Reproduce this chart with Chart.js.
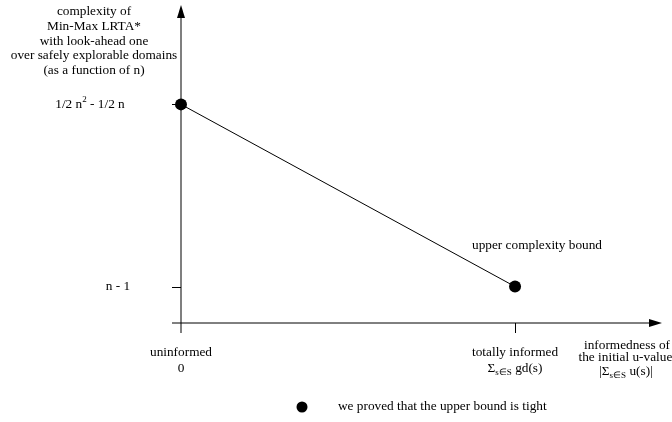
<!DOCTYPE html>
<html>
<head>
<meta charset="utf-8">
<script src="https://cdn.jsdelivr.net/npm/chart.js@4"></script>
<style>
  body { margin: 0; background: #fff; }
  #wrap { width: 672px; height: 422px; }
</style>
</head>
<body>
<div id="wrap"><canvas id="boundChart"></canvas></div>
<script>
// informedness (x) and complexity (y), y taken as n(n-1)/2 and n-1 for n = 12
const categories = ['uninformed', 'totally informed'];
const xValues = [0, 1];
const yValues = [66, 11];
const yTickValues = [66, 11];
const seriesLabel = 'upper complexity bound';
const legendLabel = 'we proved that the upper bound is tight';
const yAxisTitle = ['complexity of', 'Min-Max LRTA*', 'with look-ahead one', 'over safely explorable domains', '(as a function of n)'];

const FONT = '"Liberation Serif", "Times New Roman", serif';
const BASE = 13.3;

// parts: [{t, size, dy}]
function drawRich(ctx, parts, cx, cy) {
    let w = 0;
    parts.forEach(p => {
        ctx.font = (p.size || BASE) + 'px ' + FONT;
        w += ctx.measureText(p.t).width;
    });
    let x = cx - w / 2;
    parts.forEach(p => {
        ctx.font = (p.size || BASE) + 'px ' + FONT;
        ctx.fillText(p.t, x, cy + (p.dy || 0));
        x += ctx.measureText(p.t).width;
    });
}

const yTickParts = [
    [{ t: '1/2 n' }, { t: '2', size: 9, dy: -5 }, { t: ' - 1/2 n' }],
    [{ t: 'n - 1' }]
];
const yTickX = [90, 118];
const xTickParts = [
    [[{ t: categories[0] }], [{ t: '0' }]],
    [[{ t: categories[1] }], [{ t: 'Σ' }, { t: 's∈S', size: 9, dy: 4 }, { t: ' gd(s)' }]]
];

const diagram = {
    id: 'diagram',
    beforeDatasetsDraw(chart) {
        const ctx = chart.ctx;
        const xs = chart.scales.x, ys = chart.scales.y;
        const x0 = xs.getPixelForValue(0), y0 = ys.getPixelForValue(0);
        const top = chart.chartArea.top, right = chart.chartArea.right;
        ctx.save();
        // vertical axis
        ctx.strokeStyle = '#555';
        ctx.lineWidth = 1.5;
        ctx.beginPath();
        ctx.moveTo(x0, y0 + 10);
        ctx.lineTo(x0, top + 10);
        ctx.stroke();
        ctx.fillStyle = '#000';
        ctx.beginPath();
        ctx.moveTo(x0, top);
        ctx.lineTo(x0 - 4, top + 13);
        ctx.lineTo(x0 + 4, top + 13);
        ctx.closePath();
        ctx.fill();
        // horizontal axis
        ctx.strokeStyle = '#000';
        ctx.lineWidth = 1;
        ctx.beginPath();
        ctx.moveTo(x0 - 9, y0);
        ctx.lineTo(right - 10, y0);
        ctx.stroke();
        ctx.beginPath();
        ctx.moveTo(right, y0);
        ctx.lineTo(right - 13, y0 - 4);
        ctx.lineTo(right - 13, y0 + 4);
        ctx.closePath();
        ctx.fill();
        // ticks
        ctx.beginPath();
        yTickValues.forEach(v => {
            const py = Math.round(ys.getPixelForValue(v)) + 0.5;
            ctx.moveTo(x0 - 9, py);
            ctx.lineTo(x0, py);
        });
        const px1 = Math.round(xs.getPixelForValue(xValues[1])) + 0.5;
        ctx.moveTo(px1, y0);
        ctx.lineTo(px1, y0 + 10);
        ctx.stroke();

        // texts
        ctx.fillStyle = '#000';
        ctx.textBaseline = 'middle';
        ctx.textAlign = 'left';
        yAxisTitle.forEach((line, i) => drawRich(ctx, [{ t: line }], 94, 12 + i * 14.6));
        yTickValues.forEach((v, i) => drawRich(ctx, yTickParts[i], yTickX[i], ys.getPixelForValue(v)));
        xValues.forEach((v, i) => {
            const px = xs.getPixelForValue(v);
            drawRich(ctx, xTickParts[i][0], px, y0 + 30);
            drawRich(ctx, xTickParts[i][1], px, y0 + 46);
        });
        drawRich(ctx, [{ t: 'informedness of' }], 627, y0 + 23);
        drawRich(ctx, [{ t: 'the initial u-values' }], 628, y0 + 35);
        drawRich(ctx, [{ t: '|Σ' }, { t: 's∈S', size: 9, dy: 4 }, { t: ' u(s)|' }], 626, y0 + 49);
        drawRich(ctx, [{ t: seriesLabel }], 537, 246);

        // legend
        ctx.beginPath();
        ctx.arc(302, 407, 5.5, 0, Math.PI * 2);
        ctx.fill();
        ctx.textAlign = 'left';
        ctx.font = BASE + 'px ' + FONT;
        ctx.fillText(legendLabel, 338, 407);
        ctx.restore();
    }
};

new Chart(document.getElementById('boundChart').getContext('2d'), {
    type: 'scatter',
    data: {
        datasets: [{
            label: seriesLabel,
            data: xValues.map((x, i) => ({ x: x, y: yValues[i] })),
            showLine: true,
            borderColor: '#000',
            borderWidth: 1,
            pointRadius: 6,
            pointBackgroundColor: '#000',
            pointBorderWidth: 0,
            clip: false
        }]
    },
    options: {
        responsive: true,
        maintainAspectRatio: false,
        animation: false,
        layout: {
            autoPadding: false,
            padding: { left: 181, right: 10, top: 5, bottom: 99 }
        },
        plugins: {
            legend: { display: false },
            tooltip: { enabled: false }
        },
        scales: {
            x: { type: 'linear', min: 0, max: 1.44, display: false },
            y: { type: 'linear', min: 0, max: 96, display: false }
        }
    },
    plugins: [diagram]
});
</script>
</body>
</html>
